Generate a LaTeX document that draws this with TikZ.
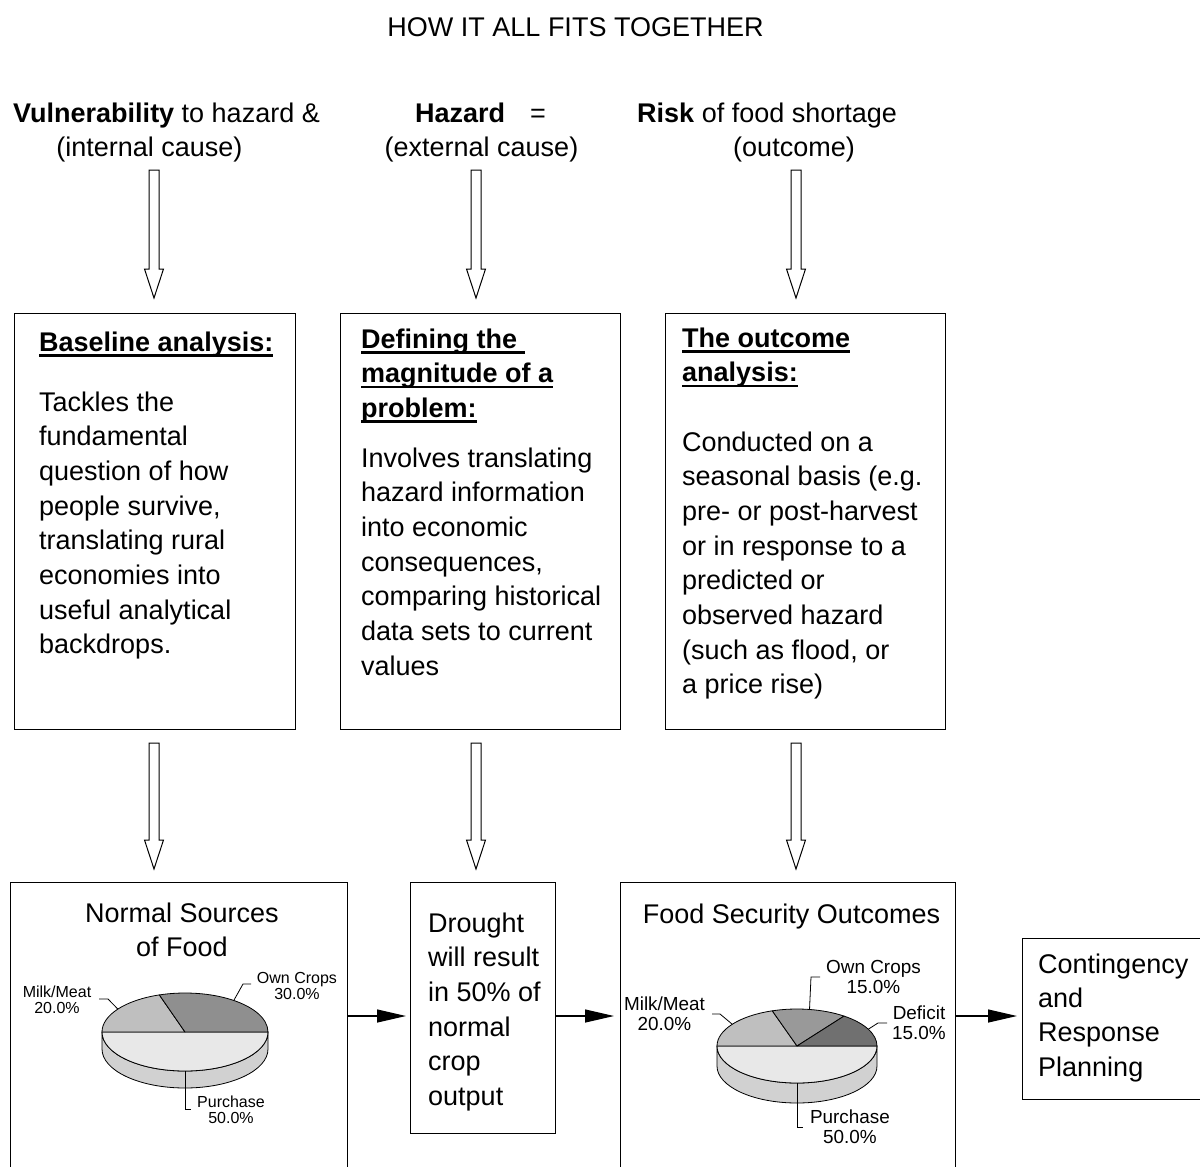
\documentclass[tikz,border=0pt]{standalone}
\usepackage{fontspec}
\setmainfont{Liberation Sans}
\usetikzlibrary{arrows.meta,calc}
\definecolor{purch}{gray}{0.91}
\definecolor{sidec}{gray}{0.82}
\definecolor{milk}{gray}{0.75}
\definecolor{ownA}{gray}{0.56}
\definecolor{ownB}{gray}{0.60}
\definecolor{defi}{gray}{0.44}
\newcommand\ulbf[1]{\setbox0\hbox{\textbf{#1}}\rlap{\rule[-5.5pt]{\wd0}{2.6pt}}\box0}
\newcommand\hollowarrow[2]{\path[hollow] ($(#1)+(-5,0)$) -- ($(#2)+(-5,-29)$) -- ($(#2)+(-9.5,-29)$) -- (#2) -- ($(#2)+(9.5,-29)$) -- ($(#2)+(5,-29)$) -- ($(#1)+(5,0)$) -- cycle;}
\newcommand\pieslice[6]{\filldraw[fill=#6, pieline] (#1) -- ($(#1)+(#4:#2 and #3)$) arc[start angle=#4, end angle=#5, x radius=#2, y radius=#3] -- cycle;}
\newcommand\pieside[4]{\filldraw[fill=sidec, pieline] ($(#1)+(-#2,0)$) -- ($(#1)+(-#2,#4)$) arc[start angle=180, end angle=0, x radius=#2, y radius=#3] -- ($(#1)+(#2,0)$) arc[start angle=0, end angle=180, x radius=#2, y radius=#3] -- cycle;}
\tikzset{
  box/.style={draw, line width=1.3pt, rectangle, inner sep=0pt, anchor=north west},
  txt/.style={align=left, inner sep=0pt, anchor=base west, font=\fontsize{27}{34.7}\selectfont},
  ctr/.style={align=center, inner sep=0pt, anchor=base, font=\fontsize{27}{34.7}\selectfont},
  hollow/.style={draw, line width=1pt, fill=white, line join=miter},
  flow/.style={line width=1.2pt, -{Triangle[length=29pt,width=13pt]}},
  pieline/.style={draw=black, line width=0.8pt, line join=round},
  lead/.style={line width=0.8pt},
  lblA/.style={align=center, inner sep=0pt, anchor=base, font=\fontsize{16}{16.3}\selectfont},
  lblB/.style={align=center, inner sep=0pt, anchor=base, font=\fontsize{18.9}{20.7}\selectfont}
}
\begin{document}
\begin{tikzpicture}[x=1pt,y=-1pt]
\useasboundingbox (0,0) rectangle (1200,1167);
\clip (0,0) rectangle (1200,1167);
\fill[white] (0,0) rectangle (1200,1167);

% title and headers (multi-line nodes are placed by the baseline of their last line)
\node[ctr] (title) at (575.5,36) {HOW IT ALL FITS TOGETHER};
\node[txt] (h1a) at (13,122) {\textbf{Vulnerability} to hazard \&};
\node[ctr] (h1b) at (149.5,156) {(internal cause)};
\node[txt] (h2a) at (415,122) {\textbf{Hazard}\hspace{25pt}=};
\node[ctr] (h2b) at (481.5,156) {(external cause)};
\node[txt] (h3a) at (637,122) {\textbf{Risk} of food shortage};
\node[ctr] (h3b) at (794,156) {(outcome)};

% upper boxes
\node[box, minimum width=281pt, minimum height=416pt] (b1) at (14,313) {};
\node[box, minimum width=280pt, minimum height=416pt] (b2) at (340,313) {};
\node[box, minimum width=280pt, minimum height=416pt] (b3) at (665,313) {};

\node[txt] (t1h) at (39,351) {\ulbf{Baseline analysis:}};
\node[txt] (t1b) at (39,653.9) {Tackles the\\fundamental\\question of how\\people survive,\\translating rural\\economies into\\useful analytical\\backdrops.};
\node[txt] (t2h) at (361,417.4) {\ulbf{Defining the\ }\\\ulbf{magnitude of a}\\\ulbf{problem:}};
\node[txt] (t2b) at (361,675.2) {Involves translating\\hazard information\\into economic\\consequences,\\comparing historical\\data sets to current\\values};
\node[txt] (t3h) at (682,381.7) {\ulbf{The outcome}\\\ulbf{analysis:}};
\node[txt] (t3b) at (682,693.9) {Conducted on a\\seasonal basis (e.g.\\pre- or post-harvest\\or in response to a\\predicted or\\observed hazard\\(such as flood, or\\a price rise)};

% hollow arrows
\coordinate (u1s) at (154,170); \coordinate (u1e) at (154,298);
\coordinate (u2s) at (476,170); \coordinate (u2e) at (476,298);
\coordinate (u3s) at (796,170); \coordinate (u3e) at (796,298);
\coordinate (d1s) at (154,743); \coordinate (d1e) at (154,869);
\coordinate (d2s) at (476,743); \coordinate (d2e) at (476,869);
\coordinate (d3s) at (796,743); \coordinate (d3e) at (796,869);
\hollowarrow{u1s}{u1e}
\hollowarrow{u2s}{u2e}
\hollowarrow{u3s}{u3e}
\hollowarrow{d1s}{d1e}
\hollowarrow{d2s}{d2e}
\hollowarrow{d3s}{d3e}

% lower boxes
\node[box, minimum width=337pt, minimum height=300pt] (bA) at (10,882) {};
\node[box, minimum width=145pt, minimum height=251pt] (bB) at (410,882) {};
\node[box, minimum width=335pt, minimum height=300pt] (bC) at (620,882) {};
\node[box, minimum width=200pt, minimum height=161pt] (bD) at (1022,938) {};

\node[ctr, font=\fontsize{27}{34}\selectfont] (tA) at (182,956) {Normal Sources\\of Food};
\node[txt] (tB) at (428,1105.5) {Drought\\will result\\in 50\% of\\normal\\crop\\output};
\node[ctr] (tC) at (791.5,923) {Food Security Outcomes};
\node[txt, font=\fontsize{27}{34.3}\selectfont] (tD) at (1038,1076) {Contingency\\and\\Response\\Planning};

% flow arrows
\coordinate (ly) at (0,1016);
\draw[flow, shorten >=4pt] (bA.east |- ly) -- (bB.west |- ly);
\draw[flow, shorten >=6pt] (bB.east |- ly) -- (bC.west |- ly);
\draw[flow, shorten >=5pt] (bC.east |- ly) -- (bD.west |- ly);

% pie 1
\coordinate (c1) at (185,1032);
\pieside{c1}{83}{39}{17}
\pieslice{c1}{83}{39}{180}{0}{purch}
\pieslice{c1}{83}{39}{-180}{-108}{milk}
\pieslice{c1}{83}{39}{0}{-108}{ownA}
\coordinate (p1m) at ($(c1)+(-144:83 and 39)$);
\coordinate (p1o) at ($(c1)+(-54:83 and 39)$);
\coordinate (p1p) at ($(c1)+(90:83 and 39)$);
\draw[lead] (99,999) -- (108,999) -- (p1m);
\draw[lead] (251,984) -- (243,984) -- (p1o);
\draw[lead] (p1p) -- (185,1109) -- (191,1109);
\node[lblA] (l1m) at (57,1013.3) {Milk/Meat\\20.0\%};
\node[lblA] (l1o) at (297,999.3) {Own Crops\\30.0\%};
\node[lblA] (l1p) at (231,1123.3) {Purchase\\50.0\%};

% pie 2
\coordinate (c2) at (797,1046);
\pieside{c2}{80}{37}{20}
\pieslice{c2}{80}{37}{180}{0}{purch}
\pieslice{c2}{80}{37}{-180}{-108}{milk}
\pieslice{c2}{80}{37}{-54}{-108}{ownB}
\pieslice{c2}{80}{37}{0}{-54}{defi}
\coordinate (p2m) at ($(c2)+(-144:80 and 37)$);
\coordinate (p2o) at ($(c2)+(-81:80 and 37)$);
\coordinate (p2d) at ($(c2)+(-27:80 and 37)$);
\coordinate (p2p) at ($(c2)+(90:80 and 37)$);
\draw[lead] (712,1014) -- (720,1014) -- (p2m);
\draw[lead] (820,977) -- (811,977) -- (p2o);
\draw[lead] (887,1023) -- (878,1023) -- (p2d);
\draw[lead] (p2p) -- (797,1127) -- (803,1127);
\node[lblB] (l2m) at (664.5,1030.7) {Milk/Meat\\20.0\%};
\node[lblB] (l2o) at (873.5,993.7) {Own Crops\\15.0\%};
\node[lblB] (l2d) at (919,1039.7) {Deficit\\15.0\%};
\node[lblB] (l2p) at (850,1143.7) {Purchase\\50.0\%};
\end{tikzpicture}
\end{document}
